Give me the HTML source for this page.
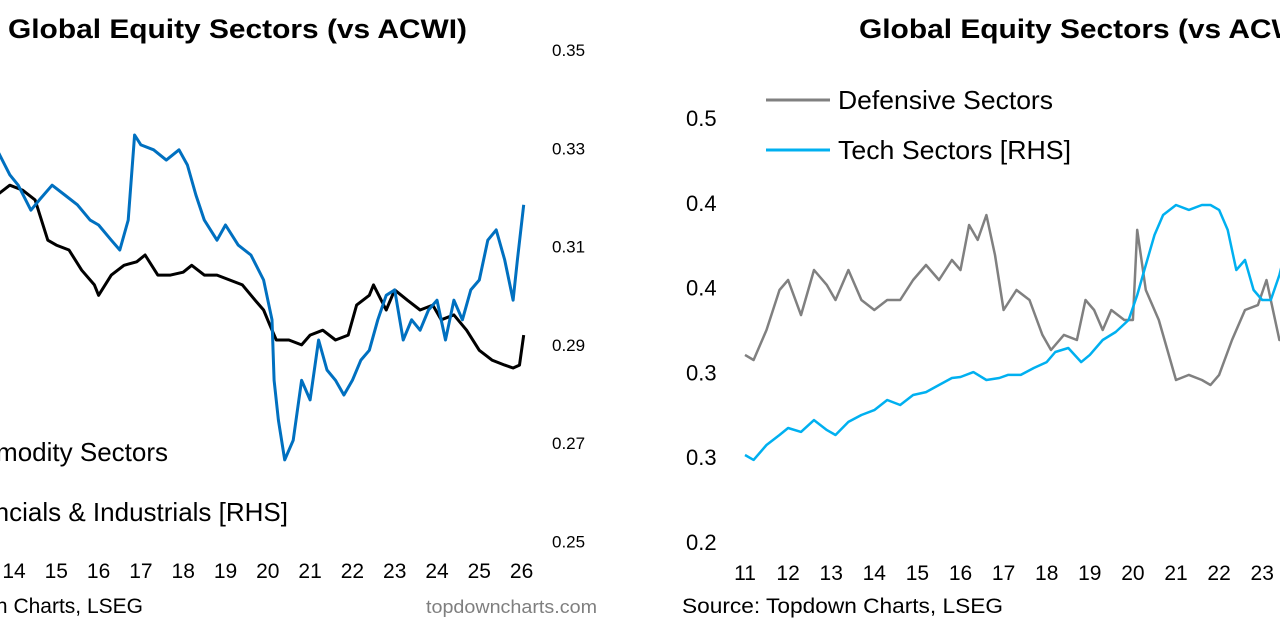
<!DOCTYPE html>
<html><head><meta charset="utf-8"><style>
html,body{margin:0;padding:0;background:#fff;}
svg{display:block;font-family:"Liberation Sans",Arial,sans-serif;}
</style></head><body>
<svg id="c" width="1280" height="625" viewBox="0 0 1280 625">
<text x="8" y="38" font-size="27" font-weight="bold" textLength="459" lengthAdjust="spacingAndGlyphs">Global Equity Sectors (vs ACWI)</text>
<text x="859" y="38" font-size="27" font-weight="bold" textLength="459" lengthAdjust="spacingAndGlyphs">Global Equity Sectors (vs ACWI)</text>
<text x="168" y="461" font-size="26" text-anchor="end">Commodity Sectors</text>
<text x="288" y="521" font-size="26" text-anchor="end">Financials &amp; Industrials [RHS]</text>
<line x1="766" y1="100" x2="830" y2="100" stroke="#808080" stroke-width="3"/>
<text x="838" y="109" font-size="26" textLength="215" lengthAdjust="spacingAndGlyphs">Defensive Sectors</text>
<line x1="766" y1="150" x2="830" y2="150" stroke="#00B0F0" stroke-width="3"/>
<text x="838" y="159" font-size="26" textLength="233" lengthAdjust="spacingAndGlyphs">Tech Sectors [RHS]</text>
<text x="143" y="613" font-size="21" text-anchor="end">Source: Topdown Charts, LSEG</text>
<text x="426" y="613" font-size="18" fill="#7f7f7f" textLength="171" lengthAdjust="spacingAndGlyphs">topdowncharts.com</text>
<text x="682" y="613" font-size="21" textLength="321" lengthAdjust="spacingAndGlyphs">Source: Topdown Charts, LSEG</text>
<g id="g"></g>
</svg>
<script>
// Left chart data
const leftYears = ["14","15","16","17","18","19","20","21","22","23","24","25","26"];
const leftTicks = [0.35,0.33,0.31,0.29,0.27,0.25];
const leftTickLabels = ["0.35","0.33","0.31","0.29","0.27","0.25"];
const finT = [13.0,13.35,13.6,13.9,14.1,14.4,14.6,14.9,15.2,15.5,15.8,16.0,16.3,16.5,16.7,16.85,17.0,17.3,17.6,17.9,18.1,18.3,18.5,18.8,19.0,19.3,19.6,19.9,20.1,20.15,20.25,20.4,20.6,20.8,21.0,21.2,21.4,21.6,21.8,22.0,22.2,22.4,22.6,22.8,23.0,23.2,23.4,23.6,23.8,24.0,24.2,24.4,24.6,24.8,25.0,25.2,25.4,25.6,25.8,25.9,26.05];
const finV = [0.3256,0.3266,0.3297,0.3246,0.3225,0.3174,0.3195,0.3225,0.3205,0.3185,0.3154,0.3144,0.3113,0.3093,0.3154,0.3327,0.3307,0.3297,0.3276,0.3297,0.3266,0.3205,0.3154,0.3113,0.3144,0.3103,0.3083,0.3032,0.2951,0.2828,0.2747,0.2666,0.2706,0.2828,0.2788,0.2910,0.2849,0.2828,0.2798,0.2828,0.2869,0.2889,0.2951,0.3001,0.3012,0.2910,0.2951,0.2930,0.2971,0.2991,0.2910,0.2991,0.2951,0.3012,0.3032,0.3113,0.3134,0.3073,0.2991,0.3073,0.3185];
const comT = [13.0,13.35,13.6,13.9,14.2,14.5,14.8,15.0,15.3,15.6,15.9,16.0,16.3,16.6,16.9,17.1,17.4,17.7,18.0,18.2,18.5,18.8,19.1,19.4,19.7,19.9,20.05,20.2,20.5,20.8,21.0,21.3,21.6,21.9,22.1,22.4,22.5,22.8,23.0,23.3,23.6,23.9,24.1,24.4,24.7,25.0,25.3,25.6,25.8,25.95,26.05];
const comV = [0.3235,0.3225,0.3205,0.3225,0.3215,0.3195,0.3113,0.3103,0.3093,0.3052,0.3022,0.3001,0.3042,0.3062,0.3069,0.3083,0.3042,0.3042,0.3048,0.3062,0.3042,0.3042,0.3032,0.3022,0.2991,0.2971,0.2940,0.2910,0.2910,0.2900,0.2920,0.2930,0.2910,0.2920,0.2981,0.3001,0.3022,0.2971,0.3012,0.2991,0.2971,0.2981,0.2951,0.2961,0.2930,0.2889,0.2869,0.2859,0.2853,0.2859,0.2920];
// Right chart data
const rightYears = ["11","12","13","14","15","16","17","18","19","20","21","22","23"];
const rightTicks = [0.5,0.45,0.4,0.35,0.3,0.25];
const rightTickLabels = ["0.5","0.4","0.4","0.3","0.3","0.2"];
const defT = [11.0,11.2,11.5,11.8,12.0,12.3,12.6,12.9,13.1,13.4,13.7,14.0,14.3,14.6,14.9,15.2,15.5,15.8,16.0,16.2,16.4,16.6,16.8,17.0,17.3,17.6,17.9,18.1,18.4,18.7,18.9,19.1,19.3,19.5,19.8,20.0,20.1,20.3,20.6,20.8,21.0,21.3,21.6,21.8,22.0,22.3,22.6,22.9,23.1,23.4,23.6,23.8];
const defV = [0.3603,0.3573,0.3750,0.3986,0.4045,0.3838,0.4104,0.4015,0.3927,0.4104,0.3927,0.3868,0.3927,0.3927,0.4045,0.4133,0.4045,0.4163,0.4104,0.4369,0.4281,0.4428,0.4192,0.3868,0.3986,0.3927,0.3721,0.3632,0.3721,0.3691,0.3927,0.3868,0.3750,0.3868,0.3809,0.3809,0.4340,0.3986,0.3809,0.3632,0.3455,0.3485,0.3455,0.3426,0.3485,0.3691,0.3868,0.3897,0.4045,0.3691,0.3721,0.3485];
const techT = [11.0,11.2,11.5,11.8,12.0,12.3,12.6,12.9,13.1,13.4,13.7,14.0,14.3,14.6,14.9,15.2,15.5,15.8,16.0,16.3,16.6,16.9,17.1,17.4,17.7,18.0,18.2,18.5,18.8,19.0,19.3,19.6,19.9,20.1,20.3,20.5,20.7,21.0,21.3,21.6,21.8,22.0,22.2,22.4,22.6,22.8,23.0,23.2,23.4,23.6,23.8];
const techV = [0.3013,0.2984,0.3072,0.3131,0.3172,0.3149,0.3219,0.3160,0.3131,0.3208,0.3249,0.3278,0.3337,0.3308,0.3367,0.3384,0.3426,0.3467,0.3473,0.3502,0.3455,0.3467,0.3485,0.3485,0.3526,0.3561,0.3620,0.3644,0.3561,0.3603,0.3691,0.3738,0.3809,0.3956,0.4133,0.4310,0.4428,0.4487,0.4458,0.4487,0.4487,0.4458,0.4340,0.4104,0.4163,0.3986,0.3927,0.3927,0.4074,0.4281,0.4369];

const NS="http://www.w3.org/2000/svg";
const g=document.getElementById('g');
const lx=y=>14+(y-14)*42.3;
const ly=v=>50+(0.35-v)*4915;
const rx=y=>745+(y-11)*43.1;
const ry=v=>118+(0.5-v)*1696;
function mk(tag,attrs){const e=document.createElementNS(NS,tag);for(const k in attrs)e.setAttribute(k,attrs[k]);g.appendChild(e);return e;}
leftTicks.forEach((v,i)=>{const t=mk('text',{x:552,y:ly(v)+6,'font-size':17});t.textContent=leftTickLabels[i];

});
leftYears.forEach(s=>{const t=mk('text',{x:lx(+s),y:578,'font-size':21,'text-anchor':'middle'});t.textContent=s;

});
rightTicks.forEach((v,i)=>{const t=mk('text',{x:686,y:ry(v)+8,'font-size':22});t.textContent=rightTickLabels[i];

});
rightYears.forEach(s=>{const t=mk('text',{x:rx(+s),y:580,'font-size':21,'text-anchor':'middle'});t.textContent=s;

});
function line(T,V,fx,fy,col,name,w){const p=T.map((t,i)=>fx(t).toFixed(1)+','+fy(V[i]).toFixed(1)).join(' ');
const e=mk('polyline',{points:p,fill:'none',stroke:col,'stroke-width':w,'stroke-linejoin':'round'});

}
line(comT,comV,lx,ly,'#000','commodity-line',3);
line(finT,finV,lx,ly,'#0070C0','financials-line',3);
line(defT,defV,rx,ry,'#808080','defensive-line',2.5);
line(techT,techV,rx,ry,'#00B0F0','tech-line',2.5);
</script>
</body></html>
